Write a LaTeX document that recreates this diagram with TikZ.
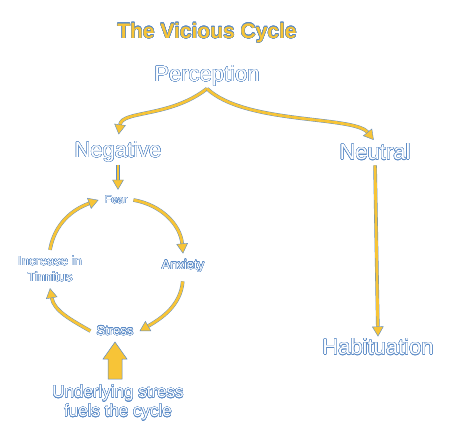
\documentclass[tikz,border=0pt]{standalone}
\usepackage{fontspec}
\setmainfont{Liberation Sans}
\usepackage{contour}
\contourlength{0.35pt}
\contournumber{24}
\usetikzlibrary{arrows.meta, positioning}
\definecolor{cyellow}{HTML}{F7C437}
\definecolor{cblue}{HTML}{5A8AC6}
\tikzset{
  every picture/.style={x=1pt, y=1pt},
  title/.style={font=\fontsize{21}{24}\selectfont\bfseries, text=cyellow},
  big/.style={font=\fontsize{22}{24}\selectfont, text=white, inner sep=2pt},
  small/.style={font=\fontsize{13}{16}\selectfont, text=white, inner sep=6pt, align=center},
  link/.style={draw=cblue, line width=0.4pt, double=cyellow, double distance=2.8pt,
    -{Triangle[length=10pt, width=11.5pt, color=cblue, fill=cyellow, line width=0.4pt]}},
  push/.style={fill=cyellow, draw=cblue, line width=0.5pt},
}
\newcommand{\rim}[1]{\contour{cblue}{#1}}% text with a blue rim

\begin{document}
\begin{tikzpicture}
  \useasboundingbox (0,0) rectangle (450,-444);
  % top: title and the two branches
  \node[title] (head) at (207,-33) {\rim{The Vicious Cycle}};
  \node[big] (perception) at (207,-76) {\rim{Perception}};
  \node[big] (negative) at (118,-152) {\rim{Negative}};
  \node[big] (neutral) at (375,-152) {\rim{Neutral}};
  \node[big] (habituation) at (378,-347) {\rim{Habituation}};
  \draw[link, shorten >=5pt] (perception.south) .. controls +(-37,-29) and +(4,29) .. (negative.north);
  \draw[link, shorten >=2pt] (perception.south) .. controls +(38,-36) and +(-21,26) .. (neutral.north);
  \draw[link, shorten <=3pt] (neutral.south) -- (habituation.north);
  % the cycle
  \node[small, font=\fontsize{11}{13}\selectfont] (fear) at (116,-200) {\rim{Fear}};
  \node[small] (anxiety) at (183,-266) {\rim{Anxiety}};
  \node[small] (stress) at (115,-331) {\rim{Stress}};
  \node[small] (tinnitus) at (50,-269) {\rim{Increase in}\\\rim{Tinnitus}};
  \draw[link] (negative.south) -- (negative.south |- fear.north);
  \draw[link] (fear.east) to[out=-10, in=95] (anxiety.north);
  \draw[link, shorten <=3pt] (anxiety.south) to[out=-95, in=30] (stress.east);
  \draw[link] (stress.west) to[out=150, in=-80] (tinnitus.south);
  \draw[link] (tinnitus.north) to[out=80, in=200] (fear.west);
  % underlying stress pushes up
  \draw[push] (108,-379) -- (108,-359) -- (103,-359) -- (115,-342) -- (127,-359)
    -- (122,-359) -- (122,-379) -- cycle;
  \node[small, font=\fontsize{17}{19}\selectfont, inner sep=2pt] (under) at (118,-403)
    {\rim{Underlying stress}\\\rim{fuels the cycle}};
\end{tikzpicture}
\end{document}
